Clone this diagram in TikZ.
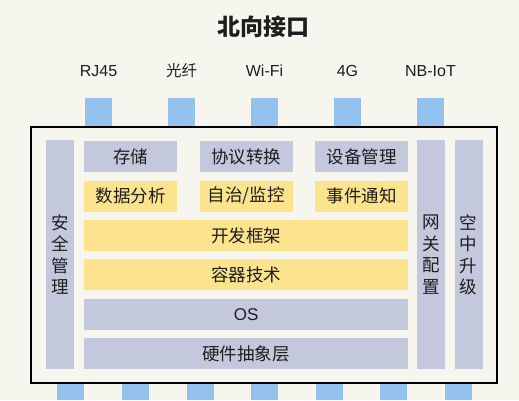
\documentclass[tikz,border=0pt]{standalone}
\usepackage{fontspec}
\setmainfont{Liberation Sans}
\newfontfamily\cjk{Noto Sans CJK SC}
\definecolor{pagebg}{HTML}{F6F6EF}
\definecolor{portblue}{HTML}{93C2EF}
\definecolor{layergray}{HTML}{C4C8DD}
\definecolor{layeryellow}{HTML}{FCE38E}
\definecolor{textdark}{HTML}{1E1E1E}
\tikzset{
  port/.style={
    rectangle, fill=portblue, inner sep=0pt,
    minimum width=27pt, minimum height=#1
  },
  port/.default=30pt,
  portlabel/.style={font=\fontsize{16}{18}\selectfont, text=textdark},
  layer/.style={
    rectangle, fill=#1, inner sep=0pt, anchor=north west,
    minimum height=31pt, text=textdark,
    font=\cjk\fontsize{17.5}{19}\selectfont
  },
  layer/.default=layergray,
  sidebar/.style={
    rectangle, fill=layergray, inner sep=0pt, anchor=north west,
    minimum width=28pt, minimum height=229pt,
    align=center, text=textdark,
    font=\cjk\fontsize{17.5}{21.5}\selectfont
  },
  frame/.style={draw=black, line width=2pt, fill=pagebg}
}

\begin{document}
\begin{tikzpicture}[x=1pt, y=-1pt]

  % Page
  \fill[pagebg] (0,0) rectangle (519,400);
  \useasboundingbox (0,0) rectangle (519,400);

  % Title
  \node[font=\cjk\bfseries\fontsize{23}{25}\selectfont, text=textdark]
    (title) at (263,27) {北向接口};

  % Northbound ports
  \foreach \x/\name/\txt in {
      98.5/rj/RJ45, 181.5/fiber/{\cjk\fontsize{15.5}{17}\selectfont 光纤},
      264.5/wifi/Wi-Fi, 347.5/lte/4G, 430.5/nbiot/NB-IoT} {
    \node[portlabel] (\name-lbl) at (\x,71) {\txt};
    \node[port] (\name) at (\x,112.5) {};
  }

  % Southbound ports
  \foreach \x [count=\i] in {70.5,135.5,200,264.5,329.5,393.5,458.5}
    \node[port=18pt] (south\i) at (\x,391) {};

  % Gateway frame
  \draw[frame] (31,127) rectangle (497,383);

  % Side bars
  \node[sidebar] (security) at (46,140) {安\\全\\管\\理};
  \node[sidebar] (config)   at (417,140) {网\\关\\配\\置};
  \node[sidebar] (ota)      at (454.5,140) {空\\中\\升\\级};

  % Application rows
  \node[layer, minimum width=93pt] (storage)  at (84,141)    {存储};
  \node[layer, minimum width=93pt] (protocol) at (199.5,141) {协议转换};
  \node[layer, minimum width=93pt] (device)   at (315,141)   {设备管理};

  \node[layer=layeryellow, minimum width=93pt] (analysis) at (84,180.4)    {数据分析};
  \node[layer=layeryellow, minimum width=93pt] (monitor)  at (199.5,180.4) {自治/监控};
  \node[layer=layeryellow, minimum width=93pt] (event)    at (315,180.4)   {事件通知};

  % Platform layers
  \node[layer=layeryellow, minimum width=324pt] (framework) at (84,219.8) {开发框架};
  \node[layer=layeryellow, minimum width=324pt] (container) at (84,259.2) {容器技术};
  \node[layer, minimum width=324pt, font=\fontsize{17}{19}\selectfont]
    (os) at (84,298.6) {OS};
  \node[layer, minimum width=324pt] (hal) at (84,338) {硬件抽象层};

\end{tikzpicture}
\end{document}
